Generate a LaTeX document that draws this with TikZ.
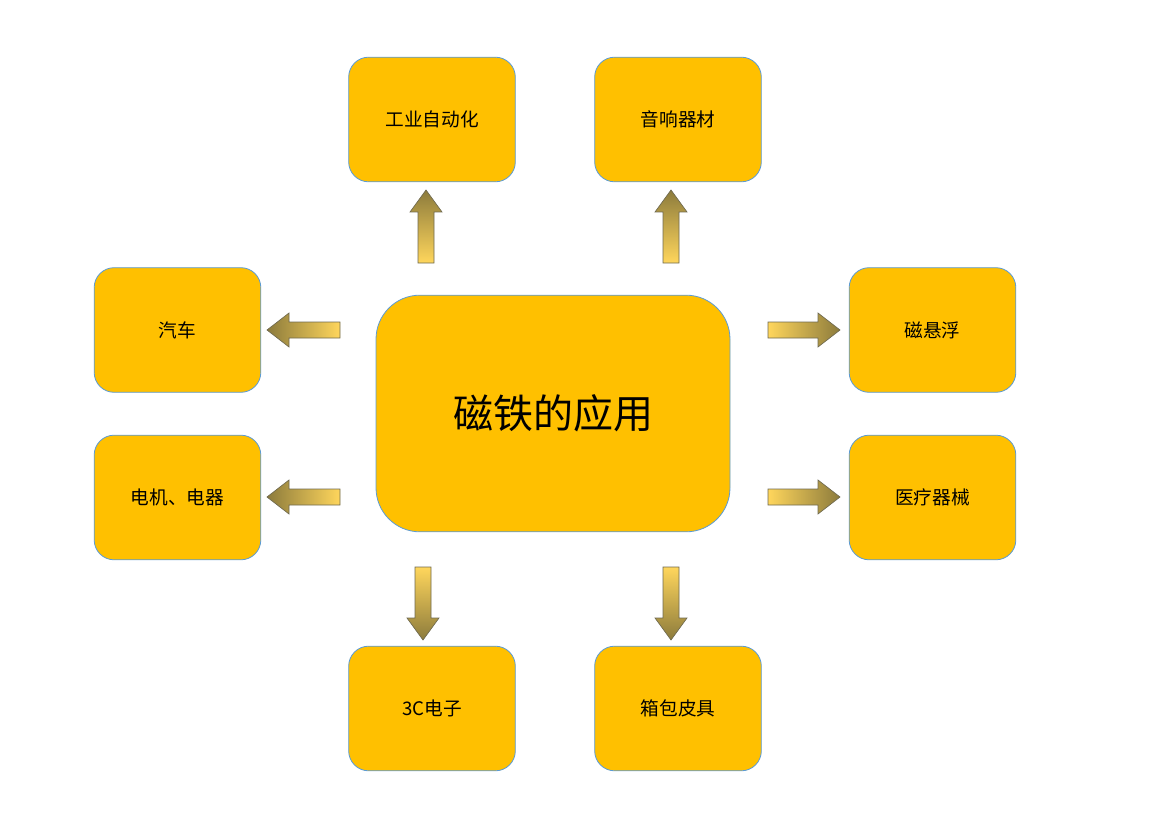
\documentclass[tikz,border=0pt]{standalone}
\usepackage{fontspec}
\newfontfamily\cjk{Noto Sans CJK SC}
\definecolor{boxfill}{HTML}{FFC000}
\definecolor{boxline}{HTML}{5B9BD5}
\definecolor{arrdark}{HTML}{8C7B3C}
\definecolor{arrlight}{HTML}{FFD65C}
\definecolor{arrline}{HTML}{6F6A50}
\tikzset{x=0.75pt,y=-0.75pt,
 box/.style={draw=boxline,fill=boxfill,rounded corners=15pt,line width=0.6pt,font=\cjk\fontsize{14}{16}\selectfont},
 arr/.style={draw=arrline,line width=0.5pt}}
% arrow pointing up with shaft center x, tail y, head y
\newcommand{\uparr}[3]{\path[arr,top color=arrdark,bottom color=arrlight] (#1-8,#2)--(#1-8,#3+22)--(#1-16,#3+22)--(#1,#3)--(#1+16,#3+22)--(#1+8,#3+22)--(#1+8,#2)--cycle;}
\newcommand{\downarr}[3]{\path[arr,top color=arrlight,bottom color=arrdark] (#1-8,#2)--(#1-8,#3-22)--(#1-16,#3-22)--(#1,#3)--(#1+16,#3-22)--(#1+8,#3-22)--(#1+8,#2)--cycle;}
\newcommand{\leftarr}[3]{\path[arr,left color=arrdark,right color=arrlight] (#2,#1-8)--(#3+22,#1-8)--(#3+22,#1-17)--(#3,#1)--(#3+22,#1+17)--(#3+22,#1+8)--(#2,#1+8)--cycle;}
\newcommand{\rightarr}[3]{\path[arr,left color=arrlight,right color=arrdark] (#2,#1-8)--(#3-22,#1-8)--(#3-22,#1-17)--(#3,#1)--(#3-22,#1+17)--(#3-22,#1+8)--(#2,#1+8)--cycle;}
\begin{document}
\begin{tikzpicture}
\useasboundingbox (0,0) rectangle (1150,813);
\node[box,minimum width=125pt,minimum height=93.5pt] (a) at (432,119.5) {工业自动化};
\node[box,minimum width=125pt,minimum height=93.5pt] (b) at (678,119.5) {音响器材};
\node[box,minimum width=125pt,minimum height=93.5pt] (c) at (177.5,330) {汽车};
\node[box,minimum width=125pt,minimum height=93.5pt] (d) at (177.5,497.5) {电机、电器};
\node[box,minimum width=125pt,minimum height=93.5pt] (e) at (932.5,330) {磁悬浮};
\node[box,minimum width=125pt,minimum height=93.5pt] (f) at (932.5,497.5) {医疗器械};
\node[box,minimum width=125pt,minimum height=93.5pt] (g) at (432,708.5) {3C电子};
\node[box,minimum width=125pt,minimum height=93.5pt] (h) at (678,708.5) {箱包皮具};
\node[box,rounded corners=33pt,minimum width=265.5pt,minimum height=177.5pt,font=\cjk\fontsize{30}{34}\selectfont] (m) at (553,413.5) {磁铁的应用};
\uparr{426}{263}{190}
\uparr{671}{263}{190}
\downarr{423}{567}{640}
\downarr{671}{567}{640}
\leftarr{330}{340}{267}
\leftarr{497}{340}{267}
\rightarr{330}{768}{840}
\rightarr{497}{768}{840}
\end{tikzpicture}
\end{document}
